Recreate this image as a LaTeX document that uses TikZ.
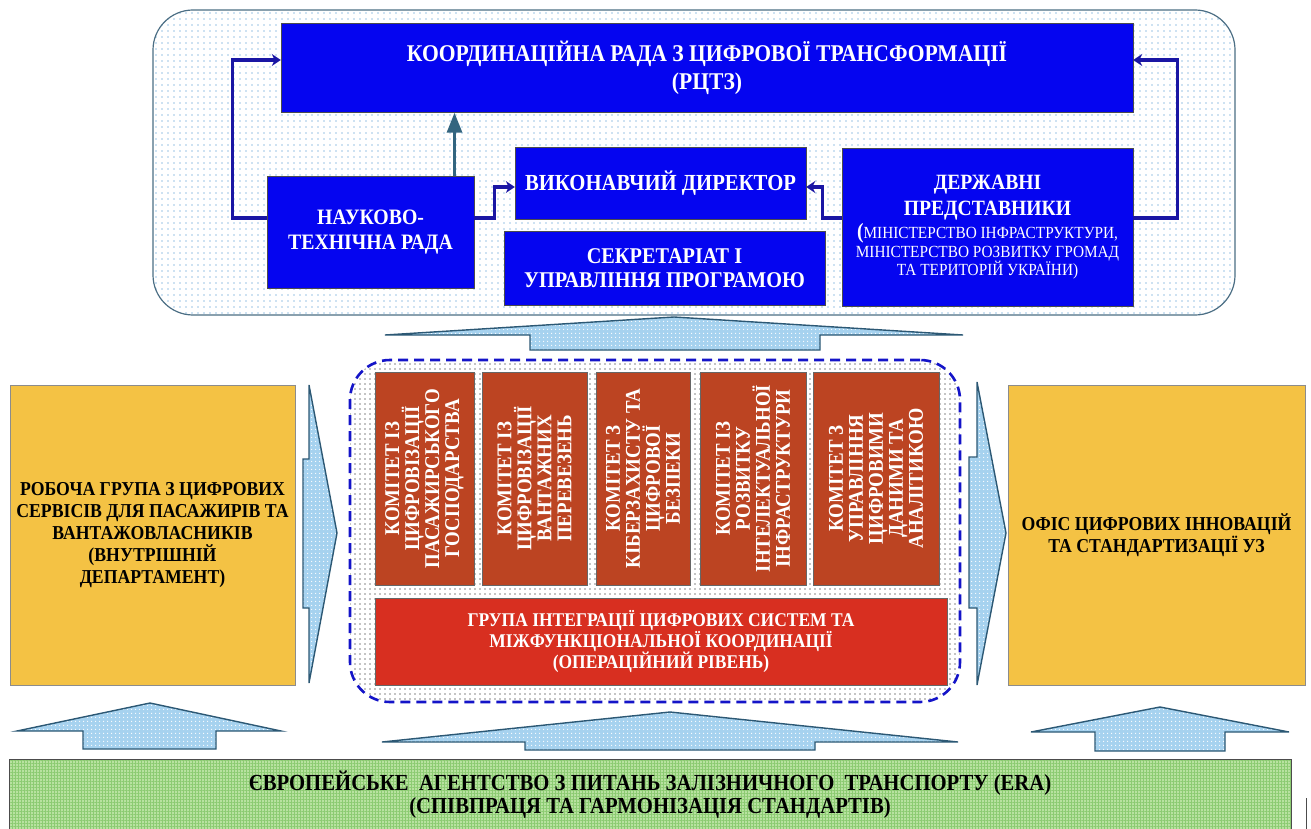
\documentclass[tikz,border=0pt]{standalone}
\usepackage{fontspec}
\setmainfont[FakeStretch=0.9]{Liberation Serif}
\usetikzlibrary{arrows.meta, patterns.meta, positioning}

\definecolor{boardblue}{HTML}{0505F0}
\definecolor{linknavy}{HTML}{1A16A4}
\definecolor{steel}{HTML}{33657F}
\definecolor{komred}{HTML}{BC4422}
\definecolor{groupred}{HTML}{D82F20}
\definecolor{officeyellow}{HTML}{F4C244}
\definecolor{arrowfill}{HTML}{A6D2EF}
\definecolor{arrowedge}{HTML}{2C5874}
\definecolor{dashblue}{HTML}{1414C8}
\definecolor{panelline}{HTML}{4B6E84}
\definecolor{paneldots}{HTML}{9CC5E6}
\definecolor{erafill}{HTML}{B8E2A0}
\definecolor{erahatch}{HTML}{8CCB72}

\begin{document}
\begin{tikzpicture}[x=1pt, y=-1pt,
                    block/.style={rectangle, draw=black!70, fill=boardblue, text=white, align=center,
                                  inner sep=0pt, font=\bfseries\fontsize{22}{25}\selectfont},
                    komitet/.style={rectangle, draw=black!60, fill=komred, text=white, align=center,
                                    rotate=90, minimum width=213pt, inner sep=0pt,
                                    font=\bfseries\fontsize{21}{20}\selectfont},
                    office/.style={rectangle, draw=black!45, fill=officeyellow, align=center,
                                   minimum height=300pt, inner sep=0pt, font=\bfseries\fontsize{19.7}{22}\selectfont},
                    link/.style={draw=linknavy, line width=3.2pt, -{Stealth[length=9pt, width=12pt]}},
                    uplink/.style={draw=steel, line width=3pt, -{Triangle[length=20pt, width=15pt]}},
                    bigarrow/.style={draw=arrowedge, line width=1.4pt, preaction={fill=arrowfill},
                                     pattern={Dots[distance=4pt, radius=0.8pt]}, pattern color=white}]
  \useasboundingbox (0,0) rectangle (1311,829);

  % top board and middle frame
  \node[rectangle, rounded corners=40pt, draw=panelline, line width=1.2pt, minimum width=1082pt,
        minimum height=305pt, preaction={fill=white}, pattern={Dots[distance=6pt, radius=0.8pt]},
        pattern color=paneldots] (board) at (694,162.5) {};
  \node[rectangle, rounded corners=40pt, draw=dashblue, line width=2.6pt, dash pattern=on 10pt off 6pt,
        minimum width=610pt, minimum height=342pt, preaction={fill=white},
        pattern={Dots[distance=5pt, radius=0.7pt]}, pattern color=black] (frame) at (655,531) {};

  % governance boxes
  \node[block, minimum width=852pt, minimum height=89pt, font=\bfseries\fontsize{24}{28}\selectfont]
        (koord) at (707,68) {КООРДИНАЦІЙНА РАДА З ЦИФРОВОЇ ТРАНСФОРМАЦІЇ\\(РЦТЗ)};
  \node[block, minimum width=207pt, minimum height=112pt] (ntr) at (370.5,232) {НАУКОВО-\\ТЕХНІЧНА РАДА};
  \node[block, minimum width=291pt, minimum height=72pt, font=\bfseries\fontsize{23}{25}\selectfont]
        (exec) at (660.5,183) {ВИКОНАВЧИЙ ДИРЕКТОР};
  \node[block, minimum width=321pt, minimum height=74pt, below=12pt of exec, xshift=4pt,
        font=\bfseries\fontsize{22.5}{24}\selectfont] (secr) {СЕКРЕТАРІАТ І\\УПРАВЛІННЯ ПРОГРАМОЮ};
  \node[block, minimum width=291pt, minimum height=158pt, font=\bfseries\fontsize{21.8}{24}\selectfont]
        (derzh) at (987.5,227)
        {ДЕРЖАВНІ\\[2pt]ПРЕДСТАВНИКИ\\[-1pt]
         (\mdseries\fontsize{17}{20}\selectfont МІНІСТЕРСТВО ІНФРАСТРУКТУРИ,\\[-5pt]
         {\mdseries\fontsize{17}{20}\selectfont МІНІСТЕРСТВО РОЗВИТКУ ГРОМАД}\\[-6pt]
         {\mdseries\fontsize{17}{20}\selectfont ТА ТЕРИТОРІЙ УКРАЇНИ)}};

  \draw[link] ([yshift=14pt]ntr.west) -| ([xshift=-48pt, yshift=8pt]koord.west) -- ([yshift=8pt]koord.west);
  \draw[link] ([yshift=14pt]ntr.east) -- ++(20,0) |- ([yshift=-4pt]exec.west);
  \draw[link] ([yshift=9pt]derzh.west) -- ++(-19,0) |- ([yshift=-4pt]exec.east);
  \draw[link] ([yshift=9pt]derzh.east) -| ([xshift=44pt, yshift=8pt]koord.east) -- ([yshift=8pt]koord.east);
  \draw[uplink] ([xshift=84pt]ntr.north) -- ([xshift=84pt]ntr.north |- koord.south);

  % committees
  \node[komitet, minimum height=99pt] (kom1) at (424.5,478.5) {КОМІТЕТ ІЗ\\ЦИФРОВІЗАЦІЇ\\ПАСАЖИРСЬКОГО\\ГОСПОДАРСТВА};
  \node[komitet, minimum height=105pt] (kom2) at (534.5,478.5) {КОМІТЕТ ІЗ\\ЦИФРОВІЗАЦІЇ\\ВАНТАЖНИХ\\ПЕРЕВЕЗЕНЬ};
  \node[komitet, minimum height=94pt] (kom3) at (643,478.5) {КОМІТЕТ З\\КІБЕРЗАХИСТУ ТА\\ЦИФРОВОЇ\\БЕЗПЕКИ};
  \node[komitet, minimum height=106pt] (kom4) at (753,478.5) {КОМІТЕТ ІЗ\\РОЗВИТКУ\\ІНТЕЛЕКТУАЛЬНОЇ\\ІНФРАСТРУКТУРИ};
  \node[komitet, minimum height=126pt] (kom5) at (876,478.5) {КОМІТЕТ З\\УПРАВЛІННЯ\\ЦИФРОВИМИ\\ДАНИМИ ТА\\АНАЛІТИКОЮ};
  \node[rectangle, draw=black!60, fill=groupred, text=white, align=center, inner sep=0pt,
        minimum width=572pt, minimum height=87pt, font=\bfseries\fontsize{19.4}{21}\selectfont]
        (grupa) at (661,641.5) {ГРУПА ІНТЕГРАЦІЇ ЦИФРОВИХ СИСТЕМ ТА\\МІЖФУНКЦІОНАЛЬНОЇ КООРДИНАЦІЇ\\(ОПЕРАЦІЙНИЙ РІВЕНЬ)};

  % side offices
  \node[office, minimum width=285pt] (robocha) at (152.5,535)
        {РОБОЧА ГРУПА З ЦИФРОВИХ\\СЕРВІСІВ ДЛЯ ПАСАЖИРІВ ТА\\ВАНТАЖОВЛАСНИКІВ\\(ВНУТРІШНІЙ\\ДЕПАРТАМЕНТ)};
  \node[office, minimum width=297pt] (ofis) at (1156.5,535) {ОФІС ЦИФРОВИХ ІННОВАЦІЙ\\ТА СТАНДАРТИЗАЦІЇ УЗ};

  % ERA
  \node[rectangle, draw=black!70, minimum width=1282pt, minimum height=72pt, align=center, inner sep=0pt,
        preaction={fill=erafill}, pattern={Hatch[distance=3pt, line width=0.5pt]}, pattern color=erahatch,
        font=\bfseries\fontsize{23}{23}\selectfont] (era) at (650,795)
        {ЄВРОПЕЙСЬКЕ\ \ АГЕНТСТВО З ПИТАНЬ ЗАЛІЗНИЧНОГО\ \ ТРАНСПОРТУ (ERA)\\(СПІВПРАЦЯ ТА ГАРМОНІЗАЦІЯ СТАНДАРТІВ)};

  % block arrows
  \draw[bigarrow] (385,335) -- (674,317) -- (963,335) -- (820,335) -- (820,350) -- (530,350) -- (530,335) -- cycle;
  \draw[bigarrow] (303,459) -- (309,459) -- (309,385) -- (337,533) -- (309,683) -- (309,608) -- (303,608) -- cycle;
  \draw[bigarrow] (969,457) -- (977,457) -- (977,382) -- (1006,533) -- (977,685) -- (977,608) -- (969,608) -- cycle;
  \draw[bigarrow] (17,731) -- (150,703) -- (281,731) -- (216,731) -- (216,749) -- (83,749) -- (83,731) -- cycle;
  \draw[bigarrow] (382,742) -- (670,712) -- (958,742) -- (815,742) -- (815,750) -- (525,750) -- (525,742) -- cycle;
  \draw[bigarrow] (1031,732) -- (1160,707) -- (1289,732) -- (1225,732) -- (1225,751) -- (1095,751) -- (1095,732) -- cycle;

  \draw[black!70, line width=0.8pt] (1306,798) -- (1306,829);
\end{tikzpicture}
\end{document}
